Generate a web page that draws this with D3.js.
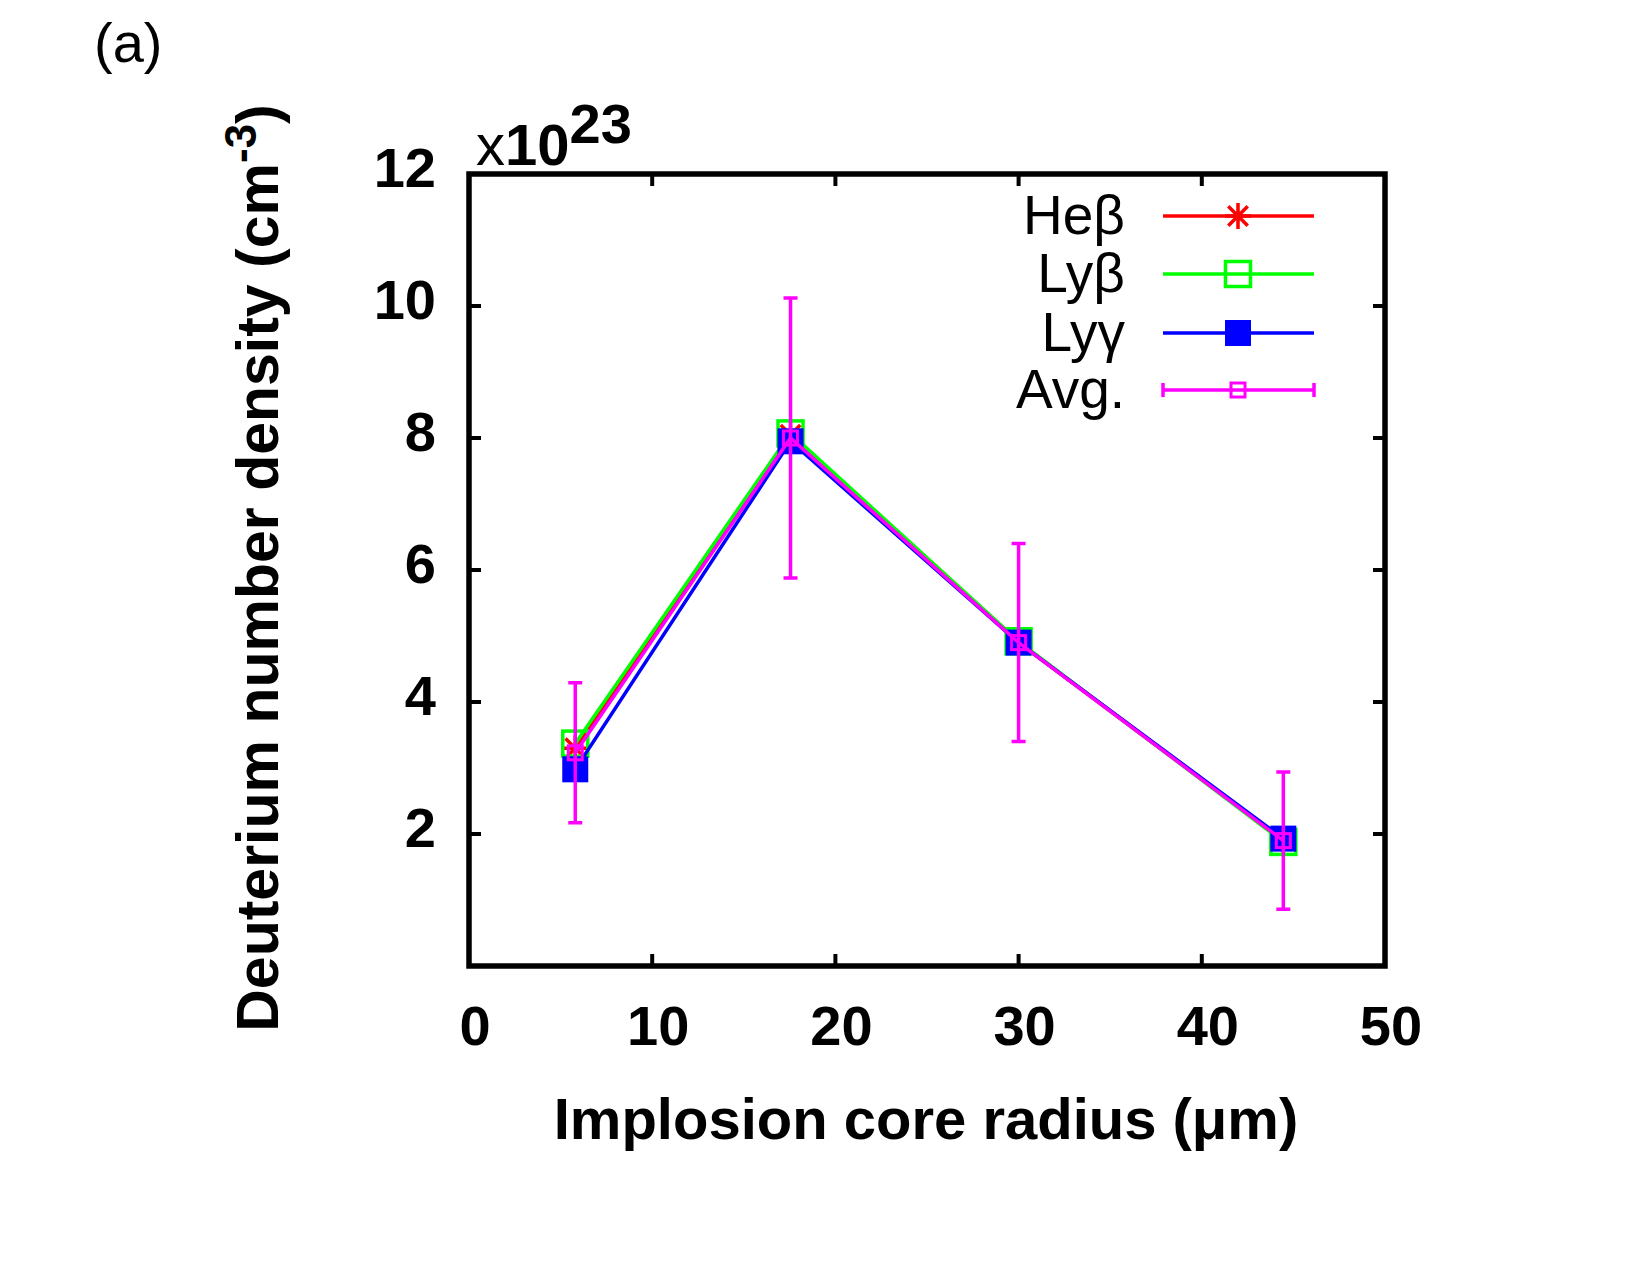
<!DOCTYPE html>
<html>
<head>
<meta charset="utf-8">
<script src="https://cdn.jsdelivr.net/npm/d3@7"></script>
<style>
  body { margin: 0; background: #fff; }
  svg text { font-family: "Liberation Sans", Arial, Helvetica, sans-serif; }
</style>
</head>
<body>
<svg class="chart" width="1650" height="1275"></svg>
<script>
const svg = d3.select(".chart");

// data (density in units of 1e23 cm^-3)
const radius = [5.8, 17.55, 30.0, 44.45];
const heBeta = [3.30, 8.05, 4.90, 1.90];
const lyBeta = [3.37, 8.07, 4.92, 1.88];
const lyGamma = [2.98, 7.95, 4.90, 1.93];
const avg = [3.23, 8.00, 4.90, 1.90];
const avgErr = [1.06, 2.12, 1.50, 1.04];

const xTicks = [0, 10, 20, 30, 40, 50];
const yTicks = [2, 4, 6, 8, 10, 12];

const series = [
    { name: "Heβ", values: heBeta, color: "#ff0000", marker: "star" },
    { name: "Lyβ", values: lyBeta, color: "#00ff00", marker: "openSquare" },
    { name: "Lyγ", values: lyGamma, color: "#0000ff", marker: "filledSquare" },
    { name: "Avg.", values: avg, color: "#ff00ff", marker: "smallSquare", err: avgErr }
];

const L = 469, R = 1385, T = 174, B = 966;
const x = d3.scaleLinear().domain([0, 50]).range([L, R]);
const y = d3.scaleLinear().domain([0, 12]).range([B, T]);
const TICK = 12;

// markers
function drawMarker(g, kind, cx, cy, color) {
    if (kind == "star") {
        const s = 13;
        g.append("path")
            .attr("d", `M${cx - s},${cy}H${cx + s}M${cx},${cy - s}V${cy + s}` +
                `M${cx - s * 0.75},${cy - s * 0.75}L${cx + s * 0.75},${cy + s * 0.75}` +
                `M${cx - s * 0.75},${cy + s * 0.75}L${cx + s * 0.75},${cy - s * 0.75}`)
            .attr("stroke", color).attr("stroke-width", 3.5).attr("fill", "none");
    } else if (kind == "openSquare") {
        g.append("rect").attr("x", cx - 12.5).attr("y", cy - 12.5)
            .attr("width", 25).attr("height", 25)
            .attr("fill", "none").attr("stroke", color).attr("stroke-width", 3.5);
    } else if (kind == "filledSquare") {
        g.append("rect").attr("x", cx - 13).attr("y", cy - 13)
            .attr("width", 26).attr("height", 26)
            .attr("fill", color);
    } else if (kind == "smallSquare") {
        g.append("rect").attr("x", cx - 7).attr("y", cy - 7)
            .attr("width", 14).attr("height", 14)
            .attr("fill", "none").attr("stroke", color).attr("stroke-width", 3);
    }
}

// series
const line = d3.line().x(d => x(d[0])).y(d => y(d[1]));
series.forEach(s => {
    const g = svg.append("g");
    const pts = radius.map((r, i) => [r, s.values[i]]);
    g.append("path")
        .attr("d", line(pts))
        .attr("fill", "none")
        .attr("stroke", s.color)
        .attr("stroke-width", 3.5);
    if (s.err) {
        pts.forEach((p, i) => {
            const px = x(p[0]);
            const y1 = y(p[1] + s.err[i]), y0 = y(p[1] - s.err[i]);
            g.append("path")
                .attr("d", `M${px},${y0}V${y1}M${px - 7},${y0}H${px + 7}M${px - 7},${y1}H${px + 7}`)
                .attr("stroke", s.color).attr("stroke-width", 3.5).attr("fill", "none");
        });
    }
    pts.forEach(p => drawMarker(g, s.marker, x(p[0]), y(p[1]), s.color));
});

// frame and ticks (mirrored, inward)
const axes = svg.append("g");
xTicks.forEach(t => {
    if (t == 0 || t == 50) return;
    axes.append("line").attr("x1", x(t)).attr("x2", x(t)).attr("y1", B).attr("y2", B - TICK)
        .attr("stroke", "#000").attr("stroke-width", 4);
    axes.append("line").attr("x1", x(t)).attr("x2", x(t)).attr("y1", T).attr("y2", T + TICK)
        .attr("stroke", "#000").attr("stroke-width", 4);
});
yTicks.forEach(t => {
    if (t == 12) return;
    axes.append("line").attr("x1", L).attr("x2", L + TICK).attr("y1", y(t)).attr("y2", y(t))
        .attr("stroke", "#000").attr("stroke-width", 4);
    axes.append("line").attr("x1", R).attr("x2", R - TICK).attr("y1", y(t)).attr("y2", y(t))
        .attr("stroke", "#000").attr("stroke-width", 4);
});
axes.append("rect")
    .attr("x", L).attr("y", T).attr("width", R - L).attr("height", B - T)
    .attr("fill", "none").attr("stroke", "#000").attr("stroke-width", 5.5);

// tick labels
axes.selectAll(".xlab").data(xTicks).enter().append("text")
    .attr("x", d => x(d) + 6).attr("y", 1045)
    .attr("text-anchor", "middle")
    .style("font-size", "56px").style("font-weight", "bold")
    .text(d => d);
axes.selectAll(".ylab").data(yTicks).enter().append("text")
    .attr("x", 436).attr("y", d => y(d) + 13)
    .attr("text-anchor", "end")
    .style("font-size", "56px").style("font-weight", "bold")
    .text(d => d);

// axis titles
svg.append("text")
    .attr("x", 926).attr("y", 1139)
    .attr("text-anchor", "middle")
    .style("font-size", "58px").style("font-weight", "bold")
    .text("Implosion core radius (μm)");

const yt = svg.append("text")
    .attr("transform", "translate(278, 568) rotate(-90)")
    .attr("text-anchor", "middle")
    .style("font-size", "59px").style("font-weight", "bold");
yt.append("tspan").text("Deuterium number density (cm");
yt.append("tspan").attr("dy", -22).style("font-size", "44px").text("-3");
yt.append("tspan").attr("dy", 22).text(")");

// multiplier
const mult = svg.append("text").attr("x", 476).attr("y", 165).style("font-size", "58px");
mult.append("tspan").text("x");
mult.append("tspan").style("font-weight", "bold").text("10");
mult.append("tspan").attr("dy", -22).style("font-weight", "bold").style("font-size", "56px").text("23");

// panel label
svg.append("text").attr("x", 94).attr("y", 62).style("font-size", "56px").text("(a)");

// legend
const legRows = [216, 274, 333, 390];
series.forEach((s, i) => {
    const ly = legRows[i];
    const g = svg.append("g");
    g.append("text").attr("x", 1125).attr("y", ly + 18)
        .attr("text-anchor", "end").style("font-size", "55px").text(s.name);
    g.append("line").attr("x1", 1163).attr("x2", 1314).attr("y1", ly).attr("y2", ly)
        .attr("stroke", s.color).attr("stroke-width", 3.5);
    if (s.err) {
        g.append("path").attr("d", `M1163,${ly - 7}V${ly + 7}M1314,${ly - 7}V${ly + 7}`)
            .attr("stroke", s.color).attr("stroke-width", 3.5);
    }
    drawMarker(g, s.marker, 1238, ly, s.color);
});
</script>
</body>
</html>
